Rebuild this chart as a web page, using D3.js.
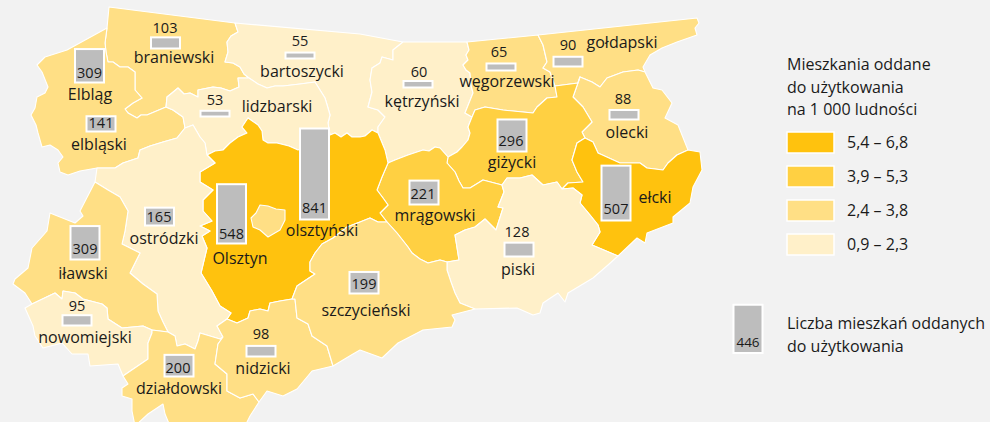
<!DOCTYPE html>
<html><head><meta charset="utf-8">
<script src="https://cdn.jsdelivr.net/npm/d3@7/dist/d3.min.js"></script>
<style>html,body{margin:0;padding:0;background:#f2f2f2}svg{display:block}text{font-family:"Open Sans","Noto Sans",sans-serif;fill:#1a1a1a}</style>
</head><body><svg id="c" width="990" height="422"></svg>
<script>
// ---- data ----
const regionNames = ["braniewski","Elbląg","elbląski","bartoszycki","lidzbarski","kętrzyński","węgorzewski","gołdapski","olecki","giżycki","ełcki","mrągowski","piski","olsztyński","Olsztyn","ostródzki","iławski","nowomiejski","działdowski","nidzicki","szczycieński"];
const counts = [103,309,141,55,53,60,65,90,88,296,507,221,128,841,548,165,309,95,200,98,199];
const classes = [2,2,2,3,3,3,2,2,2,1,0,1,3,0,2,3,2,3,2,2,2];
const legendRanges = ["5,4 – 6,8","3,9 – 5,3","2,4 – 3,8","0,9 – 2,3"];
const legendColours = ["#ffc20e","#ffd042","#ffdf85","#fff0c9"];
const legendTitle = ["Mieszkania oddane","do użytkowania","na 1 000 ludności"];
const barLegendTitle = ["Liczba mieszkań oddanych","do użytkowania"];
const barLegendValue = 446;

// map boundary lines, in map units
const branCoast=[[107,28],[109,7],[235,23]];
const branBart=[[235,23],[238,32],[231,36],[227,42],[228,52],[225,62],[233,63],[240,67],[244,74],[249,78]];
const branLidz=[[249,78],[238,78],[239,87],[230,91],[221,88],[213,87],[198,90],[198,97],[190,93],[184,94],[178,88],[172,93],[167,97],[166,107]];
const branElb=[[166,107],[147,115],[141,115],[137,118],[128,113],[125,109],[133,103],[142,98],[135,90],[135,72],[128,67],[120,67],[113,62],[108,62],[106,52],[105,43],[107,28]];
const elbCoast=[[107,28],[67,50],[45,57],[37,65],[42,72],[48,87],[45,93],[37,97],[35,108],[31,115],[36,125],[38,133],[42,147],[50,145],[58,150],[63,157],[58,163],[60,172],[68,175],[80,171],[97,168]];
const elbOstr=[[97,168],[115,168],[123,163],[138,158],[140,150],[150,146],[163,142],[177,138],[185,128]];
const elbLidz=[[185,128],[183,117],[173,110],[166,107]];
const lidzBart=[[249,78],[258,84],[267,88],[275,86],[283,86],[300,84],[315,82],[320,90],[325,98],[328,108],[330,115],[328,123],[330,135]];
const lidzOls=[[330,135],[298,150],[289,146],[277,143],[268,143],[263,140],[262,131],[258,125],[248,118],[242,127],[247,133],[238,137],[230,143],[223,150],[215,151],[207,155]];
const lidzOstr=[[207,155],[205,143],[200,137],[193,125],[185,128]];
const coastBart=[[235,23],[360,34],[403,42]];
const bartKetr=[[403,42],[393,50],[393,60],[382,57],[380,63],[372,68],[370,80],[372,92],[368,107],[378,110],[385,117],[378,127],[378,133]];
const bartOls=[[378,133],[372,130],[365,136],[360,137],[352,137],[347,133],[341,137],[335,133],[330,135]];
const coastKetr=[[403,42],[467,42]];
const ketrWeg=[[467,42],[469,50],[466,55],[468,60],[463,65],[466,70],[470,73],[471,85],[473,93],[469,103],[465,113],[472,117]];
const ketrGiz=[[472,117],[468,127],[470,133],[468,140],[462,147],[457,152],[448,157]];
const ketrMrag=[[448,157],[440,148],[435,147],[429,151],[423,150],[408,155],[395,160],[388,163]];
const ketrOls=[[388,163],[385,150],[378,133]];
const olsMrag=[[388,163],[382,177],[377,190],[383,198],[388,205],[380,213],[387,222]];
const olsSzcz=[[387,222],[378,222],[370,218],[360,222],[347,227],[333,238],[322,244],[315,253],[310,262],[310,271],[315,274],[297,286],[292,299]];
const olsNidz=[[292,299],[280,301],[270,303],[268,311],[260,309],[250,311],[248,318],[237,323],[227,319]];
const olsOstr=[[227,319],[231,313],[220,306],[212,291],[201,273],[207,248],[202,236],[210,231],[200,226],[212,221],[203,211],[203,200],[213,190],[200,182],[200,172],[215,163],[207,155]];
const ostrNidz=[[227,319],[217,326],[223,337]];
const ostrDzial=[[223,337],[220,339],[200,333],[198,341],[195,349],[185,344],[177,346],[175,336],[168,332]];
const ilOstr=[[95,182],[108,190],[120,197],[128,211],[125,231],[122,244],[140,253],[130,273],[143,284],[157,294],[158,311],[163,322],[168,332]];
const coastOstr=[[95,182],[97,168]];
const ilCoast=[[95,182],[80,211],[83,216],[75,223],[50,213],[47,231],[32,248],[28,268],[15,279],[13,284],[25,293],[32,304]];
const ilNow=[[32,304],[55,293],[62,299],[63,291],[75,293],[83,299],[102,304],[107,308],[108,319],[122,328],[143,326],[152,330]];
const ilDzial=[[152,330],[168,332]];
const nowCoast=[[32,304],[25,308],[33,326],[35,336],[43,348],[62,343],[72,354],[88,354],[90,366],[118,364],[123,376]];
const nowDzial=[[123,376],[148,359],[148,343],[152,333],[152,330]];
const nidzDzial=[[223,337],[218,344],[215,364],[227,374],[227,391],[240,398],[253,394],[259,402]];
const dzialCoast=[[259,402],[250,416],[245,426],[170,426],[165,414],[163,404],[148,414],[135,426],[132,411],[132,399],[122,396],[122,388],[128,384],[123,376]];
const nidzSzcz=[[292,299],[295,299],[297,318],[308,324],[312,336],[327,346],[333,366]];
const nidzCoast=[[333,366],[312,371],[297,389],[283,396],[267,391],[259,402]];
const szczMrag=[[387,222],[397,233],[408,247],[412,253],[420,259],[428,263],[440,260],[447,262]];
const szczPis=[[447,262],[447,270],[451,282],[455,293],[460,303],[475,309]];
const szczCoast=[[475,309],[452,315],[455,320],[452,327],[423,330],[398,343],[382,358],[360,350],[353,354],[333,366]];
const mragGiz=[[448,157],[447,163],[455,172],[459,181],[463,188],[470,188],[483,180],[502,185]];
const mragPis=[[502,185],[504,192],[498,207],[503,208],[496,230],[485,219],[475,227],[465,230],[455,235],[459,260],[447,262]];
const wegGiz=[[555,86],[557,97],[547,98],[537,107],[533,113],[523,112],[503,110],[485,107],[475,110],[472,117]];
const gizGold=[[555,86],[578,83],[580,77]];
const gizOl=[[580,77],[573,97],[583,107],[592,122],[582,132],[585,138]];
const gizElk=[[585,138],[577,143],[572,160],[577,172],[583,182],[568,183],[562,189]];
const gizPis=[[562,189],[557,182],[543,185],[532,175],[520,178],[507,178],[502,185]];
const coastWeg=[[467,42],[538,35]];
const wegGold=[[538,35],[543,45],[547,62],[543,68],[550,72],[555,86]];
const coastGold=[[538,35],[697,18],[699,23],[695,28],[697,35],[677,42],[662,48],[650,55],[643,67],[645,72]];
const goldOl=[[645,72],[638,70],[623,72],[607,78],[600,87],[592,82],[580,77]];
const olCoast=[[645,72],[653,88],[662,90],[672,103],[665,118],[678,125],[688,150]];
const olElk=[[688,150],[677,155],[668,163],[663,170],[647,168],[640,163],[620,163],[598,153],[593,142],[585,138]];
const elkCoast=[[688,150],[700,152],[702,170],[693,187],[690,203],[673,217],[673,223],[647,233],[645,243],[637,238],[618,256]];
const elkPis=[[618,256],[592,245],[600,232],[598,225],[590,215],[580,203],[582,195],[573,188],[562,189]];
const pisCoast=[[618,256],[608,265],[593,278],[568,293],[565,302],[558,293],[543,303],[540,313],[533,315],[517,308],[475,309]];
const cityOlsztyn=[[251,218],[256,213],[260,205],[268,206],[276,209],[285,210],[285,220],[280,230],[268,237],[260,230],[253,227],[251,218]];
const cityElblag=[[73,68],[69,70],[69,76],[73,81],[62,82],[60,90],[56,100],[62,107],[73,109],[80,105],[74,98],[80,85],[85,78],[73,68]];

const r = a => a.slice().reverse();
const regionLines = [
 [branCoast,branBart,branLidz,branElb],
 [cityElblag],
 [elbCoast,elbOstr,elbLidz,branElb],
 [coastBart,bartKetr,bartOls,r(lidzBart),r(branBart)],
 [r(branLidz),lidzBart,lidzOls,lidzOstr,elbLidz],
 [coastKetr,ketrWeg,ketrGiz,ketrMrag,ketrOls,r(bartKetr)],
 [coastWeg,wegGold,wegGiz,r(ketrWeg)],
 [coastGold,goldOl,r(gizGold),r(wegGold)],
 [r(goldOl),olCoast,olElk,r(gizOl)],
 [r(ketrGiz),r(wegGiz),gizGold,gizOl,gizElk,gizPis,r(mragGiz)],
 [r(olElk),elkCoast,elkPis,r(gizElk)],
 [r(ketrMrag),mragGiz,mragPis,r(szczMrag),r(olsMrag)],
 [r(gizPis),r(elkPis),pisCoast,r(szczPis),r(mragPis)],
 [r(lidzOls),r(bartOls),r(ketrOls),olsMrag,olsSzcz,olsNidz,olsOstr],
 [cityOlsztyn],
 [elbOstr,r(lidzOstr),r(olsOstr),ostrNidz,ostrDzial,r(ilOstr),coastOstr],
 [ilCoast,ilNow,ilDzial,r(ilOstr)],
 [nowCoast,nowDzial,r(ilNow)],
 [ilDzial,r(ostrDzial),nidzDzial,dzialCoast,nowDzial],
 [r(ostrNidz),r(olsNidz),nidzSzcz,nidzCoast,r(nidzDzial)],
 [r(olsSzcz),szczMrag,szczPis,szczCoast,r(nidzSzcz)]
];

// layout anchors (same order as regionNames)
const barAnchorX=[165.5,89.5,101,300,215,418,501,568,624,512,616,424,519,314.5,231.5,159.5,85,77,179,261,364];
const barAnchorY=[48.5,82.5,131.5,58.5,116.5,87.5,70.5,66.5,119.5,151.5,220.5,204.5,256.5,219.5,243.5,225.5,259.5,325.5,376.5,356.5,293.5];
const nameX=[174,90,99,302,277,422,507,622,627,512,655,435,518,322,240,164,83,85,179,263,366];
const nameY=[63,100,150,77,112,107,87,48,138,168,203,221,275,236,264,244,279,343,394,374,316];
const numX=[165,89.5,101,300,215,419,499,568,623,511,616,423,517,314.5,231.5,159,85,77,178,261,364];
const numY=[33,78,128,46,105,77,57,50,104,146,214,199,237,213,239,222,254,311,373,339,289];

// ---- drawing ----
const svg=d3.select("#c");
svg.append("rect").attr("width",990).attr("height",422).attr("fill","#f2f2f2");
const features=regionNames.map((n,i)=>({type:"Feature",properties:{name:n,cls:classes[i]},
  geometry:{type:"Polygon",coordinates:[regionLines[i].flat()]}}));
const path=d3.geoPath(d3.geoIdentity());
const colour=d3.scaleOrdinal().domain([0,1,2,3]).range(legendColours);
svg.append("g").selectAll("path").data(features).join("path")
  .attr("d",path).attr("fill",d=>colour(d.properties.cls))
  .attr("stroke","#fff").attr("stroke-width",1.1).attr("stroke-linejoin","round");

const h=d3.scaleLinear().domain([0,841]).range([0,91]);
const bars=regionNames.map((n,i)=>({n,v:counts[i],x:barAnchorX[i],y:barAnchorY[i],nx:nameX[i],ny:nameY[i],vx:numX[i],vy:numY[i]}));
const drawBar=(g,x,y,v)=>g.append("rect").attr("x",x-14.5).attr("y",y-h(v)).attr("width",29).attr("height",h(v))
  .attr("fill","#bdbdbd").attr("stroke","#fff").attr("stroke-width",2);
const gb=svg.append("g");
bars.forEach(b=>drawBar(gb,b.x,b.y,b.v));
svg.append("g").selectAll("text").data(bars).join("text")
  .attr("x",d=>d.vx).attr("y",d=>d.vy).attr("text-anchor","middle").attr("font-size",14.5).text(d=>d.v);
svg.append("g").selectAll("text").data(bars).join("text")
  .attr("x",d=>d.nx).attr("y",d=>d.ny).attr("text-anchor","middle").attr("font-size",16).text(d=>d.n);

// legend
const lg=svg.append("g");
lg.selectAll("text.t").data(legendTitle).join("text").attr("class","t")
  .attr("x",787).attr("y",(d,i)=>70+i*22.5).attr("font-size",16).text(d=>d);
const swY=d3.scalePoint().domain(legendRanges).range([132,234]);
lg.selectAll("rect").data(legendRanges).join("rect")
  .attr("x",787).attr("y",d=>swY(d)).attr("width",47).attr("height",21)
  .attr("fill",(d,i)=>legendColours[i]).attr("stroke","#fff").attr("stroke-width",1.5);
lg.selectAll("text.r").data(legendRanges).join("text").attr("class","r")
  .attr("x",847).attr("y",d=>swY(d)+16).attr("font-size",16).text(d=>d);
drawBar(lg,748,353,barLegendValue);
lg.append("text").attr("x",748).attr("y",347).attr("text-anchor","middle").attr("font-size",13.5).text(barLegendValue);
lg.selectAll("text.b").data(barLegendTitle).join("text").attr("class","b")
  .attr("x",787).attr("y",(d,i)=>329+i*23).attr("font-size",16).text(d=>d);
</script></body></html>
